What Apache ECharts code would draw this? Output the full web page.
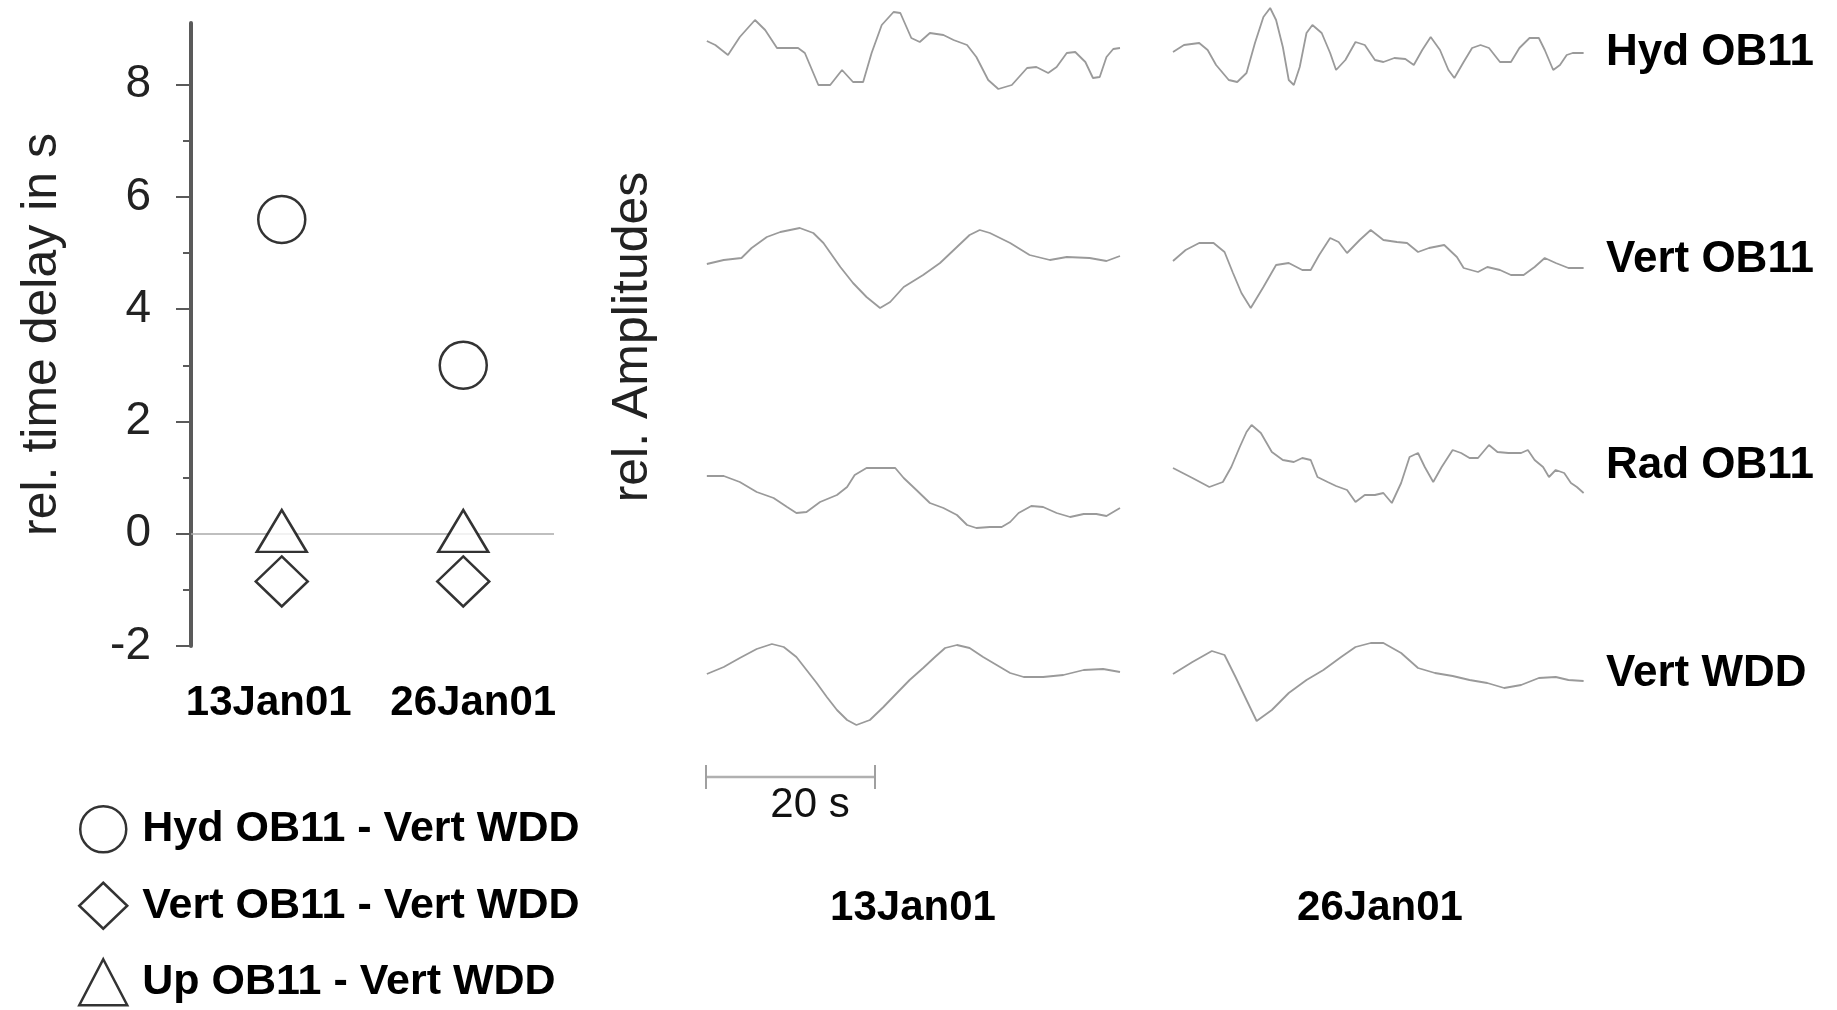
<!DOCTYPE html>
<html>
<head>
<meta charset="utf-8">
<script src="https://cdn.jsdelivr.net/npm/echarts@6/dist/echarts.min.js"></script>
<style>
html,body{margin:0;padding:0;background:#fff;}
#chart{width:1837px;height:1010px;}
</style>
</head>
<body>
<div id="chart"></div>
<script>
// ---- left panel: relative time delays ----
var dates = ['13Jan01', '26Jan01'];
var datePos = [1, 3];
var hydDelay = [5.6, 3.0];
var vertDelay = [-0.85, -0.85];
var upDelay = [0.05, 0.05];
var majorTicks = [-2, 0, 2, 4, 6, 8];
var minorTicks = [-1, 1, 3, 5, 7];
var seriesNames = ['Hyd OB11 - Vert WDD', 'Vert OB11 - Vert WDD', 'Up OB11 - Vert WDD'];

// ---- right panel: waveforms [time s, rel. amplitude] ----
var hyd13 = [[0.1,0.9],[1.1,0.5],[2.6,-0.5],[4.0,1.3],[5.8,3.0],[7.0,2.0],[8.4,0.2],[10.9,0.2],[11.7,-0.3],[13.3,-3.5],[14.7,-3.5],[16.1,-2.0],[17.4,-3.2],[18.6,-3.2],[19.6,-0.3],[20.8,2.5],[22.2,3.8],[23.0,3.7],[24.3,1.2],[25.3,0.8],[26.5,1.7],[28.1,1.5],[29.3,1.0],[30.9,0.5],[32.0,-0.7],[33.4,-3.0],[34.6,-3.9],[36.2,-3.5],[38.0,-1.8],[39.1,-1.7],[40.5,-2.3],[41.5,-1.7],[42.7,-0.3],[43.7,-0.2],[44.9,-1.2],[45.8,-2.8],[46.6,-2.7],[47.4,-0.7],[48.2,0.1],[49.0,0.2]];
var vert13 = [[0.1,-0.9],[2.1,-0.5],[4.2,-0.3],[5.4,0.7],[7.2,1.8],[8.8,2.3],[11.1,2.7],[12.7,2.2],[13.9,1.2],[15.9,-1.2],[17.4,-2.8],[19.0,-4.2],[20.6,-5.3],[21.8,-4.7],[23.4,-3.2],[25.7,-2.0],[27.7,-0.8],[29.7,0.8],[31.2,2.0],[32.4,2.5],[33.6,2.2],[36.0,1.2],[38.3,0.0],[40.7,-0.5],[42.7,-0.2],[45.4,-0.3],[47.4,-0.6],[49.0,-0.1]];
var rad13 = [[0.1,1.4],[2.1,1.4],[4.0,0.8],[6.0,-0.2],[8.0,-0.8],[9.6,-1.7],[10.7,-2.3],[11.9,-2.2],[13.5,-1.2],[15.5,-0.5],[16.7,0.3],[17.6,1.5],[19.0,2.2],[20.6,2.2],[22.4,2.2],[23.4,1.2],[24.9,0.0],[26.5,-1.3],[28.1,-1.8],[29.7,-2.5],[30.9,-3.5],[32.0,-3.8],[33.6,-3.7],[35.0,-3.7],[36.0,-3.2],[37.0,-2.3],[38.5,-1.6],[39.9,-1.7],[41.5,-2.3],[43.1,-2.7],[44.7,-2.4],[46.2,-2.4],[47.4,-2.6],[49.0,-1.8]];
var wdd13 = [[0.1,-0.4],[2.1,0.3],[4.0,1.2],[6.0,2.1],[7.8,2.6],[9.2,2.3],[10.7,1.3],[11.9,0.0],[13.1,-1.3],[14.3,-2.7],[15.5,-4.0],[16.7,-5.0],[17.8,-5.5],[19.4,-5.0],[21.0,-3.7],[22.6,-2.3],[24.1,-1.0],[25.7,0.2],[27.1,1.3],[28.3,2.2],[29.7,2.5],[31.2,2.2],[32.8,1.3],[34.4,0.5],[36.0,-0.3],[37.6,-0.7],[39.9,-0.7],[42.3,-0.5],[44.7,0.0],[47.0,0.1],[49.0,-0.2]];
var hyd26 = [[0,-0.2],[1.3,0.5],[3.1,0.7],[4.1,0.0],[5.1,-1.5],[6.6,-3.0],[7.6,-3.2],[8.7,-2.3],[9.7,0.7],[10.7,3.3],[11.5,4.2],[12.2,3.0],[13.0,0.3],[13.7,-3.0],[14.3,-3.5],[15.0,-1.7],[15.8,1.7],[16.5,2.5],[17.6,1.7],[18.6,-0.3],[19.3,-2.0],[20.4,-1.0],[21.6,0.8],[22.7,0.5],[23.9,-1.0],[24.9,-1.2],[26.2,-0.8],[27.5,-0.9],[28.5,-1.5],[29.5,0.0],[30.5,1.3],[31.6,0.0],[32.6,-2.0],[33.3,-2.8],[34.4,-1.2],[35.4,0.2],[36.4,0.5],[37.4,0.2],[38.7,-1.2],[40.0,-1.2],[41.0,0.2],[42.2,1.2],[43.3,1.2],[44.0,0.0],[45.0,-2.0],[45.8,-1.5],[46.6,-0.5],[47.3,-0.3],[48.6,-0.3]];
var vert26 = [[0,-0.6],[1.5,0.5],[3.1,1.2],[4.8,1.2],[6.1,0.3],[7.1,-1.8],[8.1,-3.8],[9.2,-5.3],[10.7,-3.2],[12.2,-1.0],[13.7,-0.8],[15.3,-1.5],[16.3,-1.5],[17.3,0.0],[18.6,1.7],[19.6,1.3],[20.6,0.2],[22.1,1.5],[23.4,2.5],[24.9,1.5],[26.5,1.3],[27.7,1.2],[29.0,0.3],[30.3,0.7],[32.1,1.0],[33.6,-0.2],[34.4,-1.3],[36.1,-1.7],[37.2,-1.2],[38.7,-1.5],[40.0,-2.0],[41.5,-2.0],[42.8,-1.2],[44.0,-0.3],[45.3,-0.8],[46.8,-1.3],[48.6,-1.3]];
var rad26 = [[0,2.2],[2.3,1.2],[4.3,0.3],[5.9,0.8],[6.9,2.3],[7.9,4.3],[8.7,5.8],[9.3,6.5],[10.4,5.7],[11.7,3.8],[13.0,3.0],[14.3,2.8],[15.3,3.2],[16.3,3.0],[17.1,1.3],[18.3,0.8],[19.3,0.4],[20.6,0.0],[21.6,-1.2],[22.7,-0.5],[23.9,-0.5],[24.9,-0.3],[25.9,-1.3],[27.0,0.7],[28.0,3.3],[29.0,3.7],[29.8,2.3],[30.8,0.8],[31.8,2.3],[33.1,4.0],[34.1,3.7],[35.1,3.2],[36.1,3.2],[37.4,4.5],[38.4,3.8],[39.7,3.7],[41.2,3.7],[42.0,4.0],[42.8,3.0],[43.8,2.3],[44.5,1.3],[45.3,2.0],[46.3,1.7],[47.1,0.7],[47.8,0.3],[48.6,-0.3]];
var wdd26 = [[0,-0.4],[2.3,0.8],[4.6,1.9],[6.1,1.5],[7.4,-0.7],[8.7,-3.0],[9.9,-5.1],[11.7,-4.0],[13.7,-2.3],[15.8,-1.0],[17.8,0.0],[19.9,1.3],[21.6,2.3],[23.4,2.7],[24.9,2.7],[27.0,1.7],[29.0,0.2],[31.0,-0.3],[33.1,-0.6],[35.1,-1.0],[37.2,-1.3],[39.2,-1.8],[41.2,-1.5],[43.3,-0.8],[45.3,-0.7],[46.8,-1.0],[48.6,-1.1]];
var traceLabels = ['Hyd OB11', 'Vert OB11', 'Rad OB11', 'Vert WDD'];
var scaleBar = [[0, 0], [20, 0]];
var scaleBarLabel = '20 s';

var FONT = 'Liberation Sans, Arial, Helvetica, sans-serif';
var chart = echarts.init(document.getElementById('chart'), null, {renderer: 'canvas'});

var traces = [[hyd13, hyd26], [vert13, vert26], [rad13, rad26], [wdd13, wdd26]];
var rowCenter = [50, 255, 490, 670];
var rowRange = [[-5, 5], [-6, 6], [-6, 7], [-6, 6]];
var colLeft = [706, 1173];
var PXU = 10; // px per amplitude unit
var TMAX = 49, COLW = 414;

var grids = [{left: 191, top: 23, width: 363, height: 623}];
var xAxes = [{
  gridIndex: 0, type: 'value', min: 0, max: 4,
  axisLine: {show: false}, axisTick: {show: false}, splitLine: {show: false},
  axisLabel: {
    customValues: datePos, margin: 36,
    formatter: function (v) { return v === datePos[0] ? '{l|' + dates[0] + '}' : '{r|' + dates[1] + '}'; },
    rich: {
      l: {fontSize: 42, fontWeight: 'bold', color: '#000', fontFamily: FONT, padding: [0, 26, 0, 0]},
      r: {fontSize: 42, fontWeight: 'bold', color: '#000', fontFamily: FONT, padding: [0, 0, 0, 20]}
    }
  }
}];
var yAxes = [{
  gridIndex: 0, type: 'value', min: -2, max: 9.1, position: 'left',
  axisLine: {show: true, lineStyle: {color: '#5a5a5a', width: 4}},
  axisTick: {show: true, customValues: majorTicks, length: 15, lineStyle: {color: '#5a5a5a', width: 2}},
  axisLabel: {customValues: majorTicks, fontSize: 46, color: '#222', margin: 40, fontFamily: FONT},
  splitLine: {show: false},
  name: 'rel. time delay in s', nameLocation: 'middle', nameGap: 124,
  nameTextStyle: {fontSize: 50, color: '#222', fontFamily: FONT}
}, {
  gridIndex: 0, type: 'value', min: -2, max: 9.1, position: 'left',
  axisLine: {show: false},
  axisTick: {show: true, customValues: minorTicks, length: 8, lineStyle: {color: '#5a5a5a', width: 2}},
  axisLabel: {show: false}, splitLine: {show: false}
}];

var series = [];
var markerStyle = {color: '#fff', borderColor: '#000', borderWidth: 2.5};
function pts(vals) { return vals.map(function (v, i) { return [datePos[i], v]; }); }
series.push({
  name: seriesNames[0], type: 'scatter', xAxisIndex: 0, yAxisIndex: 0, z: 5,
  symbol: 'circle', symbolSize: 47, itemStyle: markerStyle, data: pts(hydDelay),
  markLine: {silent: true, symbol: 'none', label: {show: false}, z: 1,
    lineStyle: {color: '#aaaaaa', width: 1.5, type: 'solid'},
    data: [[{coord: [0, 0]}, {coord: [4, 0]}]]}
});
series.push({
  name: seriesNames[1], type: 'scatter', xAxisIndex: 0, yAxisIndex: 0, z: 5,
  symbol: 'diamond', symbolSize: [52, 50], itemStyle: markerStyle, data: pts(vertDelay)
});
series.push({
  name: seriesNames[2], type: 'scatter', xAxisIndex: 0, yAxisIndex: 0, z: 5,
  symbol: 'triangle', symbolSize: [50, 42], itemStyle: markerStyle, data: pts(upDelay)
});

var gi = 1;
for (var r = 0; r < 4; r++) {
  for (var c = 0; c < 2; c++) {
    var rg = rowRange[r];
    grids.push({left: colLeft[c], width: COLW, top: rowCenter[r] - rg[1] * PXU, height: (rg[1] - rg[0]) * PXU});
    xAxes.push({gridIndex: gi, type: 'value', min: 0, max: TMAX, show: false});
    yAxes.push({gridIndex: gi, type: 'value', min: rg[0], max: rg[1], show: false});
    series.push({
      type: 'line', xAxisIndex: gi, yAxisIndex: gi + 1, data: traces[r][c],
      showSymbol: false, symbol: 'none', silent: true, clip: false,
      lineStyle: {color: '#9a9a9a', width: 1.8}
    });
    gi++;
  }
}
// scale bar grid
grids.push({left: colLeft[0], width: COLW, top: 760, height: 34});
xAxes.push({gridIndex: gi, type: 'value', min: 0, max: TMAX, show: false});
yAxes.push({gridIndex: gi, type: 'value', min: -1, max: 1, show: false});
series.push({
  type: 'line', xAxisIndex: gi, yAxisIndex: gi + 1, data: scaleBar, silent: true,
  symbol: 'rect', symbolSize: [2, 24], showSymbol: true,
  itemStyle: {color: '#a0a0a0'}, lineStyle: {color: '#b0b0b0', width: 2.5}
});

var graphics = [
  {type: 'text', x: 633, y: 337, rotation: Math.PI / 2,
   style: {text: 'rel. Amplitudes', font: '50px ' + FONT, fill: '#222', textAlign: 'center', textVerticalAlign: 'middle'}},
  {type: 'text', x: 810, y: 805,
   style: {text: scaleBarLabel, font: '42px ' + FONT, fill: '#111', textAlign: 'center', textVerticalAlign: 'middle'}},
  {type: 'text', x: 913, y: 908,
   style: {text: dates[0], font: 'bold 42px ' + FONT, fill: '#000', textAlign: 'center', textVerticalAlign: 'middle'}},
  {type: 'text', x: 1380, y: 908,
   style: {text: dates[1], font: 'bold 42px ' + FONT, fill: '#000', textAlign: 'center', textVerticalAlign: 'middle'}}
];
var labelY = [53, 260, 466, 674];
for (var k = 0; k < 4; k++) {
  graphics.push({type: 'text', x: 1606, y: labelY[k],
    style: {text: traceLabels[k], font: 'bold 44px ' + FONT, fill: '#000', textAlign: 'left', textVerticalAlign: 'middle'}});
}

chart.setOption({
  backgroundColor: '#fff',
  animation: false,
  textStyle: {fontFamily: FONT},
  grid: grids,
  xAxis: xAxes,
  yAxis: yAxes,
  legend: {
    orient: 'vertical', left: 78, top: 805, height: 260, padding: 0,
    itemWidth: 48, itemHeight: 46, itemGap: 28,
    data: seriesNames, selectedMode: false,
    itemStyle: {borderWidth: 2.5},
    textStyle: {fontSize: 43, fontWeight: 'bold', color: '#000', fontFamily: FONT, lineHeight: 46, padding: [0, 0, 0, 10]}
  },
  graphic: graphics,
  series: series
});
</script>
</body>
</html>
